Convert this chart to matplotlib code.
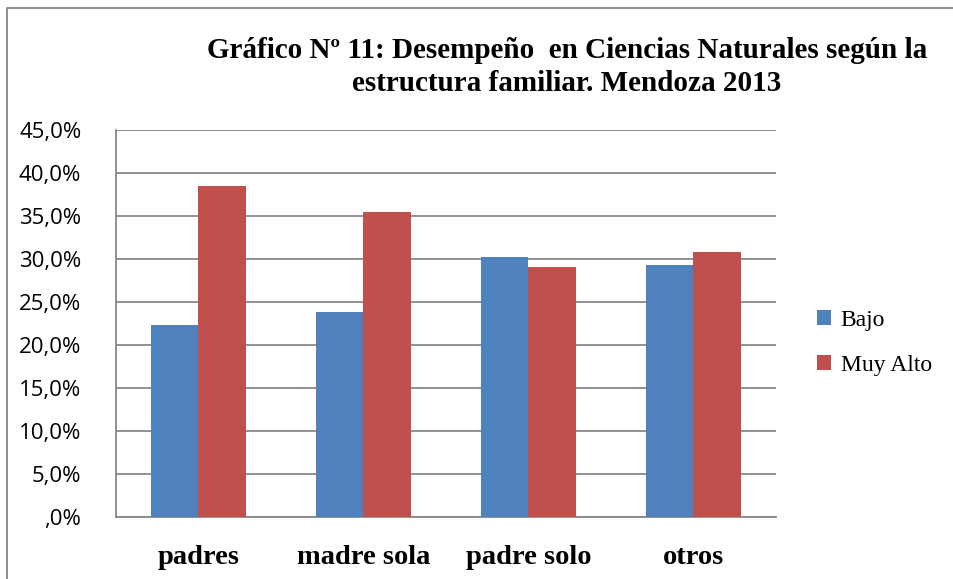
import matplotlib
matplotlib.use("Agg")
import matplotlib.pyplot as plt
from matplotlib.lines import Line2D
from matplotlib.ticker import FuncFormatter
import numpy as np

categories = ["padres", "madre sola", "padre solo", "otros"]
bajo = [22.3, 23.8, 30.2, 29.3]
muy_alto = [38.5, 35.5, 29.1, 30.8]
series_names = ["Bajo", "Muy Alto"]
colors = ["#4F81BD", "#C0504D"]
title = "Gráfico Nº 11: Desempeño  en Ciencias Naturales según la\nestructura familiar. Mendoza 2013"

W, H = 954, 579
fig = plt.figure(figsize=(W/100, H/100), dpi=100)
fig.patch.set_facecolor("white")

# outer border (left and top visible)
fig.lines.append(Line2D([7/W, 7/W, 1.0], [0, 1-8/H, 1-8/H], transform=fig.transFigure,
                        color="#868686", linewidth=1.3))

left, right, top, bottom = 116, 776, 130, 517
ax = fig.add_axes([left/W, 1-bottom/H, (right-left)/W, (bottom-top)/H])

x = np.arange(len(categories))
bw = 0.285
ax.bar(x - bw/2, bajo, bw, color=colors[0], label=series_names[0], zorder=3)
ax.bar(x + bw/2, muy_alto, bw, color=colors[1], label=series_names[1], zorder=3)

ax.set_xlim(-0.5, len(categories) - 0.5)
ax.set_ylim(0, 45)
ax.set_yticks(np.arange(0, 46, 5))
def fmt(v, pos):
    s = f"{v:.1f}".replace(".", ",")
    if s.startswith("0,"):
        s = s[1:]
    return s + "%"
ax.yaxis.set_major_formatter(FuncFormatter(fmt))
ax.grid(axis="y", color="#888888", linewidth=1.3, zorder=0)
ax.set_xticks(x)
ax.set_xticklabels(categories, fontfamily="Liberation Serif", fontweight="bold", fontsize=20.5)
ax.tick_params(axis="x", length=0, pad=20)
ax.tick_params(axis="y", length=0, labelsize=16, pad=25)
for lab in ax.get_yticklabels():
    lab.set_fontfamily("Open Sans")
for s in ["top", "right"]:
    ax.spines[s].set_visible(False)
for s in ["left", "bottom"]:
    ax.spines[s].set_color("#888888")
    ax.spines[s].set_linewidth(1.3)

fig.text(567/W, 1-67/H, title, ha="center", va="center", fontfamily="Liberation Serif",
         fontweight="bold", fontsize=21, linespacing=1.3)

leg = ax.legend(loc="center left", bbox_to_anchor=(817/W, 1-343/H), bbox_transform=fig.transFigure,
                frameon=False, prop={"family": "Liberation Serif", "size": 17},
                handlelength=0.6, handleheight=0.6, handletextpad=0.4, labelspacing=1.0,
                borderpad=0, borderaxespad=0)

fig.savefig("out.png", dpi=100, facecolor="white")
